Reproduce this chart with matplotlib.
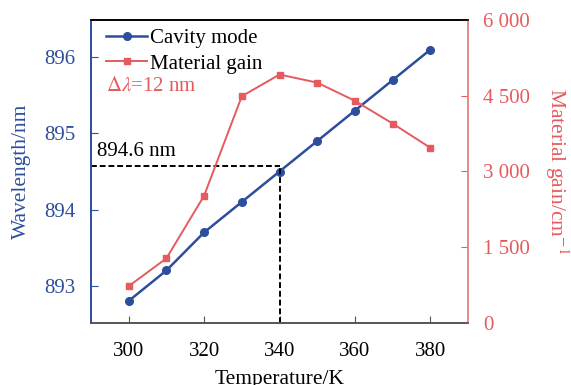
import matplotlib

matplotlib.use("Agg")
import matplotlib.pyplot as plt

plt.rcParams["font.family"] = ["Liberation Serif", "DejaVu Serif"]
plt.rcParams["mathtext.fontset"] = "stix"

temps = [300, 310, 320, 330, 340, 350, 360, 370, 380]
cavity_nm = [892.8, 893.2, 893.7, 894.1, 894.5, 894.9, 895.3, 895.7, 896.1]
gain_cm = [730, 1280, 2520, 4490, 4920, 4760, 4400, 3950, 3470]
wl_ticks = [893, 894, 895, 896]
gain_ticks = [0, 1500, 3000, 4500, 6000]
gain_ticklabels = ["0", "1 500", "3 000", "4 500", "6 000"]
mark_T = 340
mark_wl = 894.57

BLUE = "#2d4e9c"
RED = "#e65a5e"
RED_SPINE = "#e88a8c"
FS = 15

fig = plt.figure(figsize=(5.71, 3.85), dpi=100)
ax = fig.add_axes([91 / 571, 1 - 323 / 385, 377 / 571, 303 / 385])
ax2 = ax.twinx()

l1, = ax.plot(temps, cavity_nm, "-o", color=BLUE, lw=1.8, ms=5.5, label="Cavity mode")
l2, = ax2.plot(temps, gain_cm, "-s", color=RED, lw=1.4, ms=5, label="Material gain")

ax.set_xlim(290, 390)
ax.set_ylim(892.51, 896.49)
ax2.set_ylim(0, 6000)

# dashed guide at 340 K
ax.plot([290, mark_T], [mark_wl, mark_wl], "--", color="black", lw=1.4, dashes=(3, 1.5))
ax.plot([mark_T, mark_T], [892.51, mark_wl], "--", color="black", lw=1.4, dashes=(3, 1.5))
ax.text(291.5, mark_wl + 0.07, "894.6 nm", fontsize=FS, va="bottom", ha="left")

ax.set_xticks([300, 320, 340, 360, 380])
ax.set_yticks(wl_ticks)
ax2.set_yticks(gain_ticks)
ax2.set_yticklabels(gain_ticklabels)

ax.tick_params(axis="x", direction="in", length=5, labelsize=FS, pad=14, color="#555555")
ax.tick_params(axis="y", direction="in", length=5, labelsize=FS, colors=BLUE, pad=11)
ax2.tick_params(axis="y", direction="in", length=5, labelsize=FS, colors=RED, pad=11)

ax.set_xlabel("Temperature/K", fontsize=15.5, labelpad=6)
ax.set_ylabel("Wavelength/nm", fontsize=15.5, color=BLUE, labelpad=10)
ax2.set_ylabel("Material gain/cm$^{-1}$", fontsize=15.5, color=RED, rotation=270, labelpad=29)

for a in (ax, ax2):
    a.spines["left"].set_color(BLUE)
    a.spines["right"].set_color(RED_SPINE)
    a.spines["top"].set_color("black")
    a.spines["bottom"].set_color("#555555")
    for s in a.spines.values():
        s.set_linewidth(1.2)

leg = ax.legend(handles=[l1, l2], loc="upper left", frameon=False, fontsize=FS,
                handlelength=2.0, handletextpad=0.1, borderaxespad=0.2, labelspacing=0.28,
                bbox_to_anchor=(0.006, 1.013))
ax.text(0.04, 0.78, r"$\Delta\lambda$=12 nm", transform=ax.transAxes, color=RED, fontsize=FS,
        va="center", ha="left")

fig.savefig("out.png", dpi=100)
